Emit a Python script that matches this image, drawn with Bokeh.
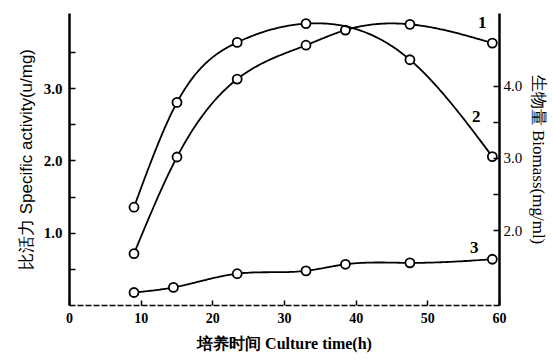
import numpy as np
from bokeh.plotting import figure
from bokeh.models import Range1d, LinearAxis, FixedTicker, ColumnDataSource
from bokeh.core.properties import value
from bokeh.embed import file_html
from bokeh.resources import INLINE

# ---- data ----
# curve 1: biomass (right axis, mg/ml)
t1 = [9, 15, 23.4, 33, 38.5, 47.5, 59]
c1 = [1.68, 3.02, 4.10, 4.57, 4.78, 4.86, 4.60]
# curve 2: specific activity (left axis, u/mg)
t2 = [9, 15, 23.4, 33, 47.5, 59]
c2 = [1.36, 2.81, 3.64, 3.90, 3.40, 2.06]
# curve 3: specific activity (left axis, u/mg)
t3 = [9, 14.5, 23.4, 33, 38.5, 47.5, 59]
c3 = [0.18, 0.25, 0.44, 0.48, 0.57, 0.59, 0.64]

curve_names = ["1", "2", "3"]
x_ticks = [0, 10, 20, 30, 40, 50, 60]
left_ticks = [1.0, 2.0, 3.0]
left_minor = [0.5, 1.5, 2.5, 3.5]
right_ticks = [2.0, 3.0, 4.0]
right_minor = [2.5, 3.5]

x_label = "培养时间 Culture time(h)"
left_label = "比活力 Specific activity(u/mg)"
right_label = "生物量 Biomass(mg/ml)"


def smooth(xs, ys, n=40):
    """Natural cubic spline rendering of a curve through the measured points."""
    x = np.asarray(xs, float)
    y = np.asarray(ys, float)
    m = len(x)
    h = np.diff(x)
    A = np.zeros((m, m))
    b = np.zeros(m)
    A[0, 0] = A[-1, -1] = 1.0
    for i in range(1, m - 1):
        A[i, i - 1] = h[i - 1]
        A[i, i] = 2 * (h[i - 1] + h[i])
        A[i, i + 1] = h[i]
        b[i] = 6 * ((y[i + 1] - y[i]) / h[i] - (y[i] - y[i - 1]) / h[i - 1])
    M = np.linalg.solve(A, b)
    ox, oy = [], []
    for i in range(m - 1):
        s = np.linspace(x[i], x[i + 1], n, endpoint=False)
        a = (x[i + 1] - s) / h[i]
        c = (s - x[i]) / h[i]
        v = (a * y[i] + c * y[i + 1]
             + ((a ** 3 - a) * M[i] + (c ** 3 - c) * M[i + 1]) * h[i] ** 2 / 6)
        ox.extend(s); oy.extend(v)
    ox.append(x[-1]); oy.append(y[-1])
    return ox, oy


p = figure(frame_width=430, frame_height=292,
           x_range=Range1d(0, 60), y_range=Range1d(0, 4.04),
           output_backend="svg", toolbar_location=None,
           min_border_left=69, min_border_right=50,
           min_border_top=13, min_border_bottom=54,
           x_axis_location=None, y_axis_location=None)
p.extra_y_ranges = {"right": Range1d(0.96, 5.01)}
p.outline_line_color = None
p.xgrid.visible = False
p.ygrid.visible = False
p.background_fill_color = "white"
p.border_fill_color = "white"

serif = "Liberation Serif"

# bottom axis
xa = LinearAxis(ticker=FixedTicker(ticks=x_ticks))
xa.axis_line_dash = "6 2"
xa.axis_line_width = 1.5
xa.major_tick_in = 5
xa.major_tick_out = 0
xa.major_tick_line_width = 1.5
xa.minor_tick_line_color = None
xa.major_label_text_font = serif
xa.major_label_text_font_style = "bold"
xa.major_label_text_font_size = "14px"
xa.major_label_text_color = "black"
xa.major_label_standoff = 7
xa.axis_label = x_label
xa.axis_label_text_font = serif
xa.axis_label_text_font_style = "bold"
xa.axis_label_text_font_size = "16px"
xa.axis_label_text_color = "black"
xa.axis_label_standoff = 9
p.add_layout(xa, "below")

# left axis
ya = LinearAxis(ticker=FixedTicker(ticks=left_ticks, minor_ticks=left_minor))
ya.axis_line_width = 2.5
ya.major_tick_in = 6
ya.major_tick_out = 0
ya.minor_tick_in = 6
ya.minor_tick_out = 0
ya.major_tick_line_width = 1.5
ya.minor_tick_line_width = 1.5
ya.major_label_overrides = {v: f"{v:.1f}" for v in left_ticks}
ya.major_label_text_font = serif
ya.major_label_text_font_style = "bold"
ya.major_label_text_font_size = "15px"
ya.major_label_text_color = "black"
ya.major_label_standoff = 7
ya.axis_label = left_label
ya.axis_label_text_font = "Liberation Sans"
ya.axis_label_text_font_style = "normal"
ya.axis_label_text_font_size = "17px"
ya.axis_label_text_color = "black"
ya.axis_label_standoff = 5
p.add_layout(ya, "left")

# right axis
ra = LinearAxis(y_range_name="right",
                ticker=FixedTicker(ticks=right_ticks, minor_ticks=right_minor))
ra.axis_line_width = 2.5
ra.major_tick_in = 6
ra.major_tick_out = 0
ra.minor_tick_in = 6
ra.minor_tick_out = 0
ra.major_tick_line_width = 1.5
ra.minor_tick_line_width = 1.5
ra.major_label_overrides = {v: f"{v:.1f}" for v in right_ticks}
ra.major_label_text_font = serif
ra.major_label_text_font_size = "15px"
ra.major_label_text_color = "black"
ra.major_label_standoff = 4
ra.axis_label = right_label
ra.axis_label_text_font = serif
ra.axis_label_text_font_style = "normal"
ra.axis_label_text_font_size = "17px"
ra.axis_label_text_color = "black"
ra.axis_label_standoff = 4
p.add_layout(ra, "right")

# curves
for xs, ys, rng in ((t1, c1, "right"), (t2, c2, "default"), (t3, c3, "default")):
    sx, sy = smooth(xs, ys)
    p.line(sx, sy, line_color="black", line_width=1.8, y_range_name=rng)
    p.scatter(xs, ys, size=9, marker="circle", fill_color="white",
              line_color="black", line_width=1.8, y_range_name=rng)

# curve number labels, placed next to each curve's last point
lab_src_left = ColumnDataSource(dict(x=[t2[-1], t3[-1]], y=[c2[-1], c3[-1]],
                                     t=[curve_names[1], curve_names[2]],
                                     dx=[-16, -18], dy=[-40, -12]))
p.text("x", "y", text="t", source=lab_src_left, x_offset="dx", y_offset="dy",
       text_font=value(serif), text_font_size="17px", text_font_style="bold",
       text_align="center", text_baseline="middle", text_color="black")
lab_src_right = ColumnDataSource(dict(x=[t1[-1]], y=[c1[-1]], t=[curve_names[0]],
                                      dx=[-10], dy=[-21]))
p.text("x", "y", text="t", source=lab_src_right, x_offset="dx", y_offset="dy",
       y_range_name="right",
       text_font=value(serif), text_font_size="17px", text_font_style="bold",
       text_align="center", text_baseline="middle", text_color="black")

open("out.html", "w").write(file_html(p, INLINE))
